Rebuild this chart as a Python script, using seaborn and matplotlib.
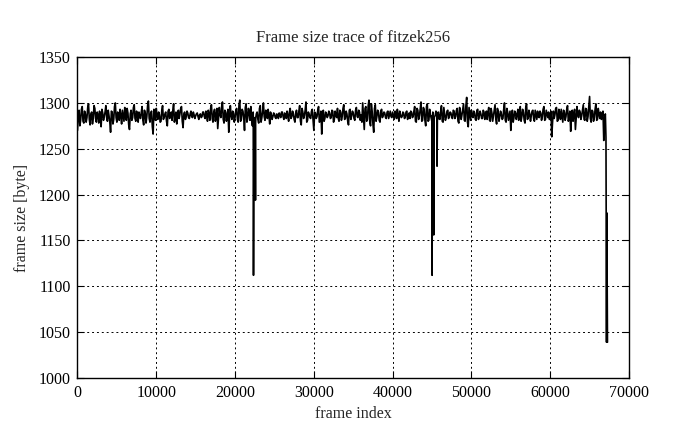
import numpy as np
import pandas as pd
import matplotlib
matplotlib.use("Agg")
import matplotlib.pyplot as plt
import seaborn as sns

# frame sizes [byte]
# readings at frames 0, 200, 400, ... 67000
frame_sizes_even = [
    1270, 1292, 1281, 1296, 1278, 1288, 1284, 1299, 1276, 1290, 1283, 1294, 1279, 1287, 1291, 1274, 1289, 1285, 1297, 1280,
    1286, 1268, 1290, 1282, 1300, 1279, 1288, 1293, 1277, 1286, 1295, 1281, 1289, 1271, 1292, 1284, 1298, 1280, 1287, 1290,
    1283, 1296, 1276, 1289, 1285, 1302, 1279, 1291, 1266, 1288, 1294, 1282, 1287, 1280, 1297, 1284, 1290, 1275, 1293, 1286,
    1281, 1299, 1284, 1277, 1292, 1288, 1296, 1273, 1290, 1285, 1289, 1283, 1291, 1284, 1287, 1286, 1289, 1282, 1288, 1285,
    1290, 1283, 1287, 1292, 1281, 1298, 1279, 1293, 1286, 1272, 1295, 1284, 1301, 1278, 1290, 1286, 1268, 1297, 1282, 1289,
    1284, 1294, 1279, 1303, 1282, 1291, 1270, 1299, 1283, 1290, 1296, 1275, 1283, 1279, 1290, 1278, 1297, 1284, 1300, 1281,
    1289, 1293, 1277, 1287, 1285, 1288, 1283, 1286, 1289, 1284, 1290, 1282, 1287, 1291, 1280, 1294, 1285, 1288, 1279, 1292,
    1284, 1297, 1276, 1290, 1286, 1301, 1281, 1288, 1283, 1293, 1270, 1289, 1285, 1296, 1280, 1266, 1292, 1283, 1288, 1286,
    1289, 1284, 1291, 1282, 1287, 1294, 1280, 1290, 1285, 1298, 1283, 1288, 1276, 1293, 1286, 1289, 1281, 1295, 1284, 1290,
    1287, 1300, 1271, 1296, 1282, 1303, 1275, 1291, 1268, 1298, 1285, 1290, 1279, 1293, 1286, 1289, 1283, 1291, 1287, 1285,
    1290, 1282, 1288, 1293, 1280, 1287, 1285, 1289, 1284, 1291, 1286, 1283, 1290, 1285, 1296, 1279, 1292, 1286, 1301, 1281,
    1293, 1275, 1299, 1281, 1287, 1286, 1282, 1286, 1289, 1290, 1282, 1297, 1279, 1288, 1284, 1292, 1286, 1289, 1283, 1291,
    1285, 1294, 1278, 1290, 1287, 1299, 1280, 1306, 1274, 1288, 1292, 1284, 1289, 1281, 1293, 1286, 1288, 1283, 1290, 1287,
    1282, 1295, 1280, 1289, 1286, 1298, 1277, 1291, 1285, 1288, 1283, 1300, 1279, 1290, 1286, 1270, 1292, 1284, 1289, 1287,
    1281, 1296, 1285, 1290, 1278, 1299, 1283, 1288, 1286, 1292, 1280, 1287, 1291, 1284, 1289, 1285, 1296, 1282, 1288, 1290,
    1284, 1263, 1291, 1287, 1295, 1281, 1289, 1293, 1279, 1290, 1285, 1297, 1283, 1269, 1292, 1288, 1271, 1296, 1284, 1290,
    1286, 1298, 1281, 1293, 1285, 1307, 1279, 1291, 1284, 1299, 1282, 1288, 1290, 1286, 1259, 1288,
]
# readings at frames 100, 300, 500, ... 66900
frame_sizes_odd = [
    1286, 1275, 1293, 1280, 1291, 1279, 1295, 1282, 1288, 1277, 1297, 1283, 1290, 1278, 1286, 1293, 1281, 1290, 1284, 1292,
    1279, 1291, 1277, 1296, 1284, 1290, 1281, 1286, 1292, 1280, 1287, 1294, 1276, 1288, 1281, 1295, 1283, 1291, 1279, 1285,
    1290, 1281, 1292, 1278, 1297, 1283, 1289, 1274, 1293, 1281, 1286, 1290, 1279, 1292, 1282, 1288, 1280, 1291, 1283, 1290,
    1292, 1279, 1290, 1286, 1283, 1294, 1280, 1288, 1282, 1291, 1284, 1288, 1285, 1290, 1283, 1288, 1285, 1287, 1284, 1290,
    1285, 1291, 1280, 1288, 1294, 1283, 1290, 1280, 1294, 1283, 1287, 1296, 1282, 1292, 1280, 1293, 1284, 1286, 1291, 1279,
    1292, 1282, 1298, 1280, 1293, 1284, 1295, 1279, 1294, 1281, 1284, 1290, 1284, 1288, 1282, 1294, 1279, 1291, 1285, 1292,
    1283, 1286, 1290, 1282, 1289, 1284, 1288, 1283, 1287, 1290, 1285, 1289, 1283, 1286, 1290, 1283, 1291, 1282, 1289, 1284,
    1291, 1280, 1294, 1283, 1292, 1279, 1290, 1284, 1291, 1282, 1290, 1283, 1292, 1279, 1291, 1284, 1280, 1290, 1284, 1291,
    1283, 1292, 1279, 1291, 1284, 1283, 1292, 1281, 1294, 1282, 1291, 1280, 1292, 1282, 1291, 1283, 1292, 1285, 1292, 1281,
    1279, 1286, 1294, 1280, 1297, 1279, 1299, 1277, 1294, 1280, 1292, 1281, 1291, 1284, 1290, 1284, 1290, 1283, 1291, 1284,
    1286, 1291, 1283, 1286, 1291, 1284, 1290, 1283, 1290, 1282, 1289, 1291, 1284, 1291, 1280, 1294, 1282, 1293, 1280, 1295,
    1281, 1296, 1280, 1293, 1283, 1290, 1285, 1291, 1282, 1284, 1291, 1280, 1295, 1281, 1291, 1283, 1290, 1284, 1292, 1283,
    1292, 1280, 1295, 1282, 1293, 1281, 1297, 1279, 1295, 1281, 1286, 1291, 1282, 1292, 1282, 1291, 1283, 1292, 1282, 1291,
    1290, 1281, 1294, 1280, 1292, 1282, 1294, 1280, 1291, 1282, 1293, 1281, 1294, 1281, 1291, 1284, 1279, 1291, 1282, 1293,
    1291, 1280, 1293, 1281, 1295, 1282, 1292, 1280, 1291, 1283, 1292, 1282, 1285, 1291, 1281, 1293, 1281, 1292, 1284, 1282,
    1291, 1279, 1283, 1294, 1280, 1293, 1282, 1286, 1292, 1281, 1293, 1280, 1291, 1285, 1280, 1293, 1283, 1287, 1292, 1282,
    1292, 1282, 1294, 1280, 1296, 1283, 1292, 1280, 1293, 1281, 1294, 1283, 1282, 1291, 1283,
]
# the three sharp drops (frame index, frame size)
dip_frames = [22310, 22340, 22390, 22560, 22590, 22640,
              44980, 45010, 45060, 45180, 45220, 45270, 45610, 45640, 45690,
              67080, 67150, 67190, 67230, 67270]
dip_sizes = [1270, 1112, 1276, 1281, 1194, 1284,
             1280, 1112, 1270, 1284, 1156, 1282, 1283, 1231, 1289,
             1262, 1039, 1180, 1105, 1039]

x_ticks = [0, 10000, 20000, 30000, 40000, 50000, 60000, 70000]
y_ticks = [1000, 1050, 1100, 1150, 1200, 1250, 1300, 1350]

even_idx = [i * 200 for i in range(len(frame_sizes_even))]
odd_idx = [100 + i * 200 for i in range(len(frame_sizes_odd))]
df = pd.DataFrame({
    "frame index": even_idx + odd_idx + dip_frames,
    "frame size": frame_sizes_even + frame_sizes_odd + dip_sizes,
}).sort_values("frame index").reset_index(drop=True)

sns.set_theme(style="ticks")
plt.rcParams["font.family"] = ["Liberation Serif", "DejaVu Serif"]

fig = plt.figure(figsize=(6.95, 4.29), dpi=100)
ax = fig.add_axes([0.1115, 0.119, 0.7935, 0.748])

sns.lineplot(data=df, x="frame index", y="frame size", color="black",
             linewidth=1.2, estimator=None, sort=True, ax=ax)

ax.set_xlim(0, 70000)
ax.set_ylim(1000, 1350)
ax.set_xticks(x_ticks)
ax.set_yticks(y_ticks)
ax.set_xticklabels([str(t) for t in x_ticks], fontsize=11.5)
ax.set_yticklabels([str(t) for t in y_ticks], fontsize=11.5)
ax.grid(True, color="black", linestyle=(0, (2, 3)), linewidth=0.7)
ax.tick_params(direction="in", length=5, width=0.8, colors="black",
               top=True, right=True, pad=5)
for s in ax.spines.values():
    s.set_visible(True)
    s.set_color("black")
    s.set_linewidth(1.0)

ax.set_title("Frame size trace of fitzek256", fontsize=12, pad=11)
ax.set_xlabel("frame index", fontsize=11.5, labelpad=4)
ax.set_ylabel("frame size [byte]", fontsize=11.5, labelpad=6)

fig.savefig("out.png", dpi=100, facecolor="white")
